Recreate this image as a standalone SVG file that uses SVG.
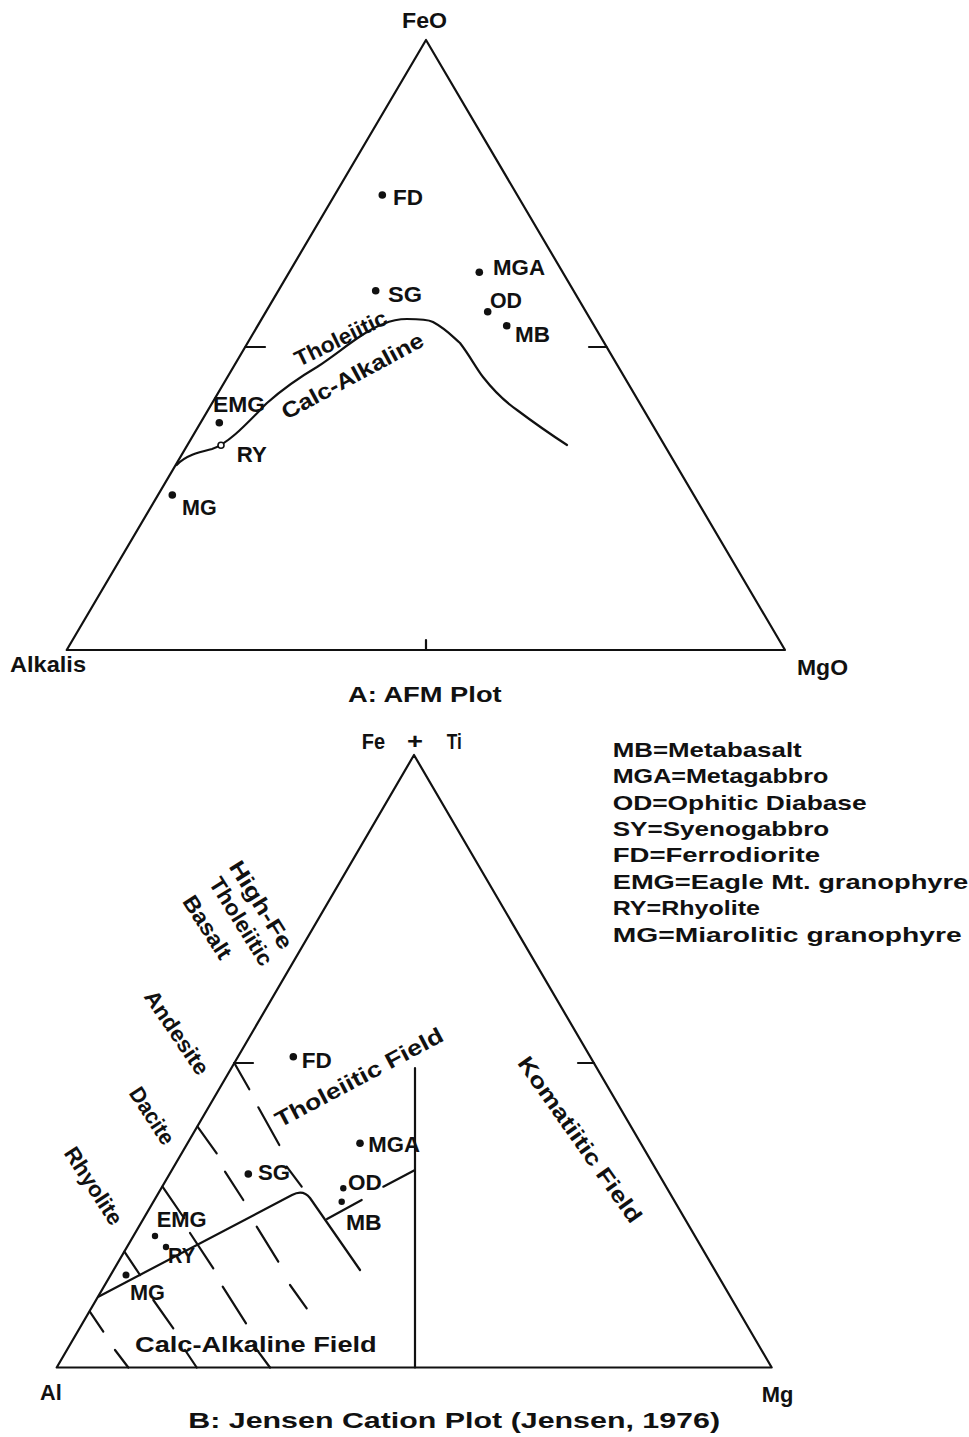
<svg xmlns="http://www.w3.org/2000/svg" width="969" height="1437" viewBox="0 0 969 1437">
<style>
.ln{stroke:#111;stroke-width:2.2;fill:none;stroke-linecap:round;stroke-linejoin:round}
.t{font-family:"Liberation Sans",Arial,sans-serif;font-size:22px;font-weight:bold;fill:#111}
.lg{font-family:"Liberation Sans",Arial,sans-serif;font-size:21px;font-weight:bold;fill:#111}
.dot{fill:#111}
.open{fill:#fff;stroke:#111;stroke-width:1.6}
</style>
<rect width="969" height="1437" fill="#fff"/>

<!-- A: AFM plot -->
<g id="afm-frame">
<polygon class="ln" points="66.7,650 785,650 426,40"/>
<line class="ln" x1="245.5" y1="347" x2="265" y2="347"/>
<line class="ln" x1="606.5" y1="347" x2="589" y2="347"/>
<line class="ln" x1="426" y1="650" x2="426" y2="640"/>
<text class="t" x="402" y="28.3" textLength="45" lengthAdjust="spacingAndGlyphs">FeO</text>
<text class="t" x="10" y="671.7" textLength="76" lengthAdjust="spacingAndGlyphs">Alkalis</text>
<text class="t" x="797" y="675" textLength="51" lengthAdjust="spacingAndGlyphs">MgO</text>
<text class="t" x="348" y="701.7" textLength="153.7" lengthAdjust="spacingAndGlyphs">A:  AFM  Plot</text>
</g>
<g id="afm-connectors">
<path class="ln" d="M176.7,465 C186,455 200,452 212,449 C230,443 250,420 267,403 C285,387 300,377 317,367 C340,352 362,332 383,324 C395,319 402,319 407,319 C418,319 427,319 433,322 C446,329 452,336 460,343 C470,356 476,368 483,377 C494,391 504,401 517,410 C533,422 550,434 567,445"/>
</g>
<g id="afm-fields">
<text class="t" transform="translate(299,367) rotate(-26)" textLength="100" lengthAdjust="spacingAndGlyphs">Tholeiitic</text>
<text class="t" transform="translate(286.5,420) rotate(-28.3)" textLength="158" lengthAdjust="spacingAndGlyphs">Calc-Alkaline</text>
</g>
<g id="afm-FD"><circle class="dot" cx="382.3" cy="195" r="3.8"/><text class="t" x="393" y="205" textLength="30" lengthAdjust="spacingAndGlyphs">FD</text></g>
<g id="afm-SG"><circle class="dot" cx="375.7" cy="290.7" r="3.8"/><text class="t" x="388" y="301.7" textLength="34" lengthAdjust="spacingAndGlyphs">SG</text></g>
<g id="afm-MGA"><circle class="dot" cx="479.3" cy="272.3" r="3.8"/><text class="t" x="493" y="275" textLength="52" lengthAdjust="spacingAndGlyphs">MGA</text></g>
<g id="afm-OD"><circle class="dot" cx="487.7" cy="311.7" r="3.8"/><text class="t" x="490" y="308" textLength="32" lengthAdjust="spacingAndGlyphs">OD</text></g>
<g id="afm-MB"><circle class="dot" cx="506.7" cy="325.7" r="3.8"/><text class="t" x="515" y="341.7" textLength="35" lengthAdjust="spacingAndGlyphs">MB</text></g>
<g id="afm-EMG"><circle class="dot" cx="219.3" cy="422.7" r="3.8"/><text class="t" x="213" y="411.7" textLength="52" lengthAdjust="spacingAndGlyphs">EMG</text></g>
<g id="afm-RY"><circle class="open" cx="221" cy="445.3" r="3"/><text class="t" x="236.7" y="461.7" textLength="30" lengthAdjust="spacingAndGlyphs">RY</text></g>
<g id="afm-MG"><circle class="dot" cx="172.3" cy="495" r="3.8"/><text class="t" x="182" y="515" textLength="34.7" lengthAdjust="spacingAndGlyphs">MG</text></g>

<!-- B: Jensen cation plot -->
<g id="jensen-frame">
<polygon class="ln" points="56.7,1367.5 771.7,1367.5 414,755"/>
<line class="ln" x1="234.3" y1="1063" x2="253" y2="1063"/>
<line class="ln" x1="594" y1="1063" x2="578" y2="1063"/>
<line class="ln" x1="415" y1="1068" x2="415" y2="1367.5"/>
<text class="t" x="361.7" y="749" textLength="23.3" lengthAdjust="spacingAndGlyphs">Fe</text>
<text class="t" x="407" y="749" textLength="16" lengthAdjust="spacingAndGlyphs">+</text>
<text class="t" x="446.7" y="749" textLength="15" lengthAdjust="spacingAndGlyphs">Ti</text>
<text class="t" x="40" y="1400" textLength="21.7" lengthAdjust="spacingAndGlyphs">Al</text>
<text class="t" x="761.7" y="1401.7" textLength="31.6" lengthAdjust="spacingAndGlyphs">Mg</text>
<text class="t" x="188.3" y="1428" textLength="531.7" lengthAdjust="spacingAndGlyphs">B:  Jensen  Cation  Plot  (Jensen,  1976)</text>
</g>
<g id="jensen-connectors">
<!-- andesite line -->
<line class="ln" x1="234.3" y1="1063" x2="249.3" y2="1089.3"/>
<line class="ln" x1="258.3" y1="1107.3" x2="279.3" y2="1145"/>
<line class="ln" x1="286.7" y1="1166.7" x2="301.7" y2="1186.7"/>
<!-- dacite line -->
<line class="ln" x1="197.5" y1="1126.7" x2="216.7" y2="1153.3"/>
<line class="ln" x1="225" y1="1171.7" x2="243.3" y2="1200"/>
<line class="ln" x1="256.7" y1="1226.7" x2="278.3" y2="1261.7"/>
<line class="ln" x1="290" y1="1285" x2="306.7" y2="1308.3"/>
<!-- rhyolite line -->
<line class="ln" x1="162.5" y1="1186.7" x2="184" y2="1218"/>
<line class="ln" x1="190" y1="1233" x2="213.3" y2="1268.3"/>
<line class="ln" x1="222.7" y1="1286.7" x2="246" y2="1323.3"/>
<line class="ln" x1="253.3" y1="1345" x2="270" y2="1367.5"/>
<!-- lower lines -->
<line class="ln" x1="124.4" y1="1251.7" x2="140" y2="1275"/>
<line class="ln" x1="153.3" y1="1300" x2="173.3" y2="1328.3"/>
<line class="ln" x1="185" y1="1350" x2="196.7" y2="1367.5"/>
<line class="ln" x1="89.8" y1="1311.7" x2="103.3" y2="1331.7"/>
<line class="ln" x1="115" y1="1350" x2="128.3" y2="1367.5"/>
<!-- calc-alkaline / tholeiitic boundary -->
<path class="ln" d="M98.4,1296.7 L292,1195 Q303,1189 310,1198 L360,1270"/>
<line class="ln" x1="327" y1="1219" x2="361.7" y2="1200"/>
<line class="ln" x1="383.3" y1="1186.7" x2="415" y2="1170"/>
</g>
<g id="jensen-fields">
<text class="t" transform="translate(228.3,866.5) rotate(58)" textLength="100" lengthAdjust="spacingAndGlyphs">High-Fe</text>
<text class="t" transform="translate(208.3,883) rotate(58)" textLength="100" lengthAdjust="spacingAndGlyphs">Tholeiitic</text>
<text class="t" transform="translate(181.7,901.5) rotate(57)" textLength="71" lengthAdjust="spacingAndGlyphs">Basalt</text>
<text class="t" transform="translate(143.3,996.5) rotate(55.8)" textLength="97" lengthAdjust="spacingAndGlyphs">Andesite</text>
<text class="t" transform="translate(128.3,1093) rotate(57)" textLength="64" lengthAdjust="spacingAndGlyphs">Dacite</text>
<text class="t" transform="translate(63.3,1153) rotate(57)" textLength="88" lengthAdjust="spacingAndGlyphs">Rhyolite</text>
<text class="t" transform="translate(280,1128) rotate(-28)" textLength="187" lengthAdjust="spacingAndGlyphs">Tholeiitic  Field</text>
<text class="t" transform="translate(516.7,1063) rotate(54.8)" textLength="198" lengthAdjust="spacingAndGlyphs">Komatiitic  Field</text>
<text class="t" x="135" y="1351.7" textLength="241.7" lengthAdjust="spacingAndGlyphs">Calc-Alkaline  Field</text>
</g>
<g id="jensen-FD"><circle class="dot" cx="293.3" cy="1056.7" r="3.8"/><text class="t" x="301.7" y="1068.3" textLength="30" lengthAdjust="spacingAndGlyphs">FD</text></g>
<g id="jensen-MGA"><circle class="dot" cx="360" cy="1143.3" r="3.8"/><text class="t" x="368.3" y="1151.7" textLength="51.7" lengthAdjust="spacingAndGlyphs">MGA</text></g>
<g id="jensen-SG"><circle class="dot" cx="248.3" cy="1174" r="3.8"/><text class="t" x="258" y="1180" textLength="32" lengthAdjust="spacingAndGlyphs">SG</text></g>
<g id="jensen-OD"><circle class="dot" cx="343.3" cy="1188.3" r="3.2"/><text class="t" x="348" y="1190" textLength="33.7" lengthAdjust="spacingAndGlyphs">OD</text></g>
<g id="jensen-MB"><circle class="dot" cx="341.7" cy="1201.7" r="3.2"/><text class="t" x="346" y="1230" textLength="35.7" lengthAdjust="spacingAndGlyphs">MB</text></g>
<g id="jensen-EMG"><circle class="dot" cx="155" cy="1236" r="3.2"/><text class="t" x="156.7" y="1226.7" textLength="50" lengthAdjust="spacingAndGlyphs">EMG</text></g>
<g id="jensen-RY"><circle class="dot" cx="166" cy="1247" r="3.2"/><text class="t" x="168" y="1263.3" textLength="27" lengthAdjust="spacingAndGlyphs">RY</text></g>
<g id="jensen-MG"><circle class="dot" cx="126" cy="1275" r="3.5"/><text class="t" x="130" y="1300" textLength="35" lengthAdjust="spacingAndGlyphs">MG</text></g>

<g id="legend">
<text class="lg" x="612.7" y="756.7" textLength="189" lengthAdjust="spacingAndGlyphs">MB=Metabasalt</text>
<text class="lg" x="612.7" y="783.1" textLength="215.6" lengthAdjust="spacingAndGlyphs">MGA=Metagabbro</text>
<text class="lg" x="612.7" y="809.5" textLength="254" lengthAdjust="spacingAndGlyphs">OD=Ophitic  Diabase</text>
<text class="lg" x="612.7" y="835.9" textLength="216.6" lengthAdjust="spacingAndGlyphs">SY=Syenogabbro</text>
<text class="lg" x="612.7" y="862.3" textLength="207.3" lengthAdjust="spacingAndGlyphs">FD=Ferrodiorite</text>
<text class="lg" x="612.7" y="888.7" textLength="355.6" lengthAdjust="spacingAndGlyphs">EMG=Eagle  Mt.  granophyre</text>
<text class="lg" x="612.7" y="915.1" textLength="147.3" lengthAdjust="spacingAndGlyphs">RY=Rhyolite</text>
<text class="lg" x="612.7" y="941.5" textLength="349" lengthAdjust="spacingAndGlyphs">MG=Miarolitic  granophyre</text>
</g>
</svg>
